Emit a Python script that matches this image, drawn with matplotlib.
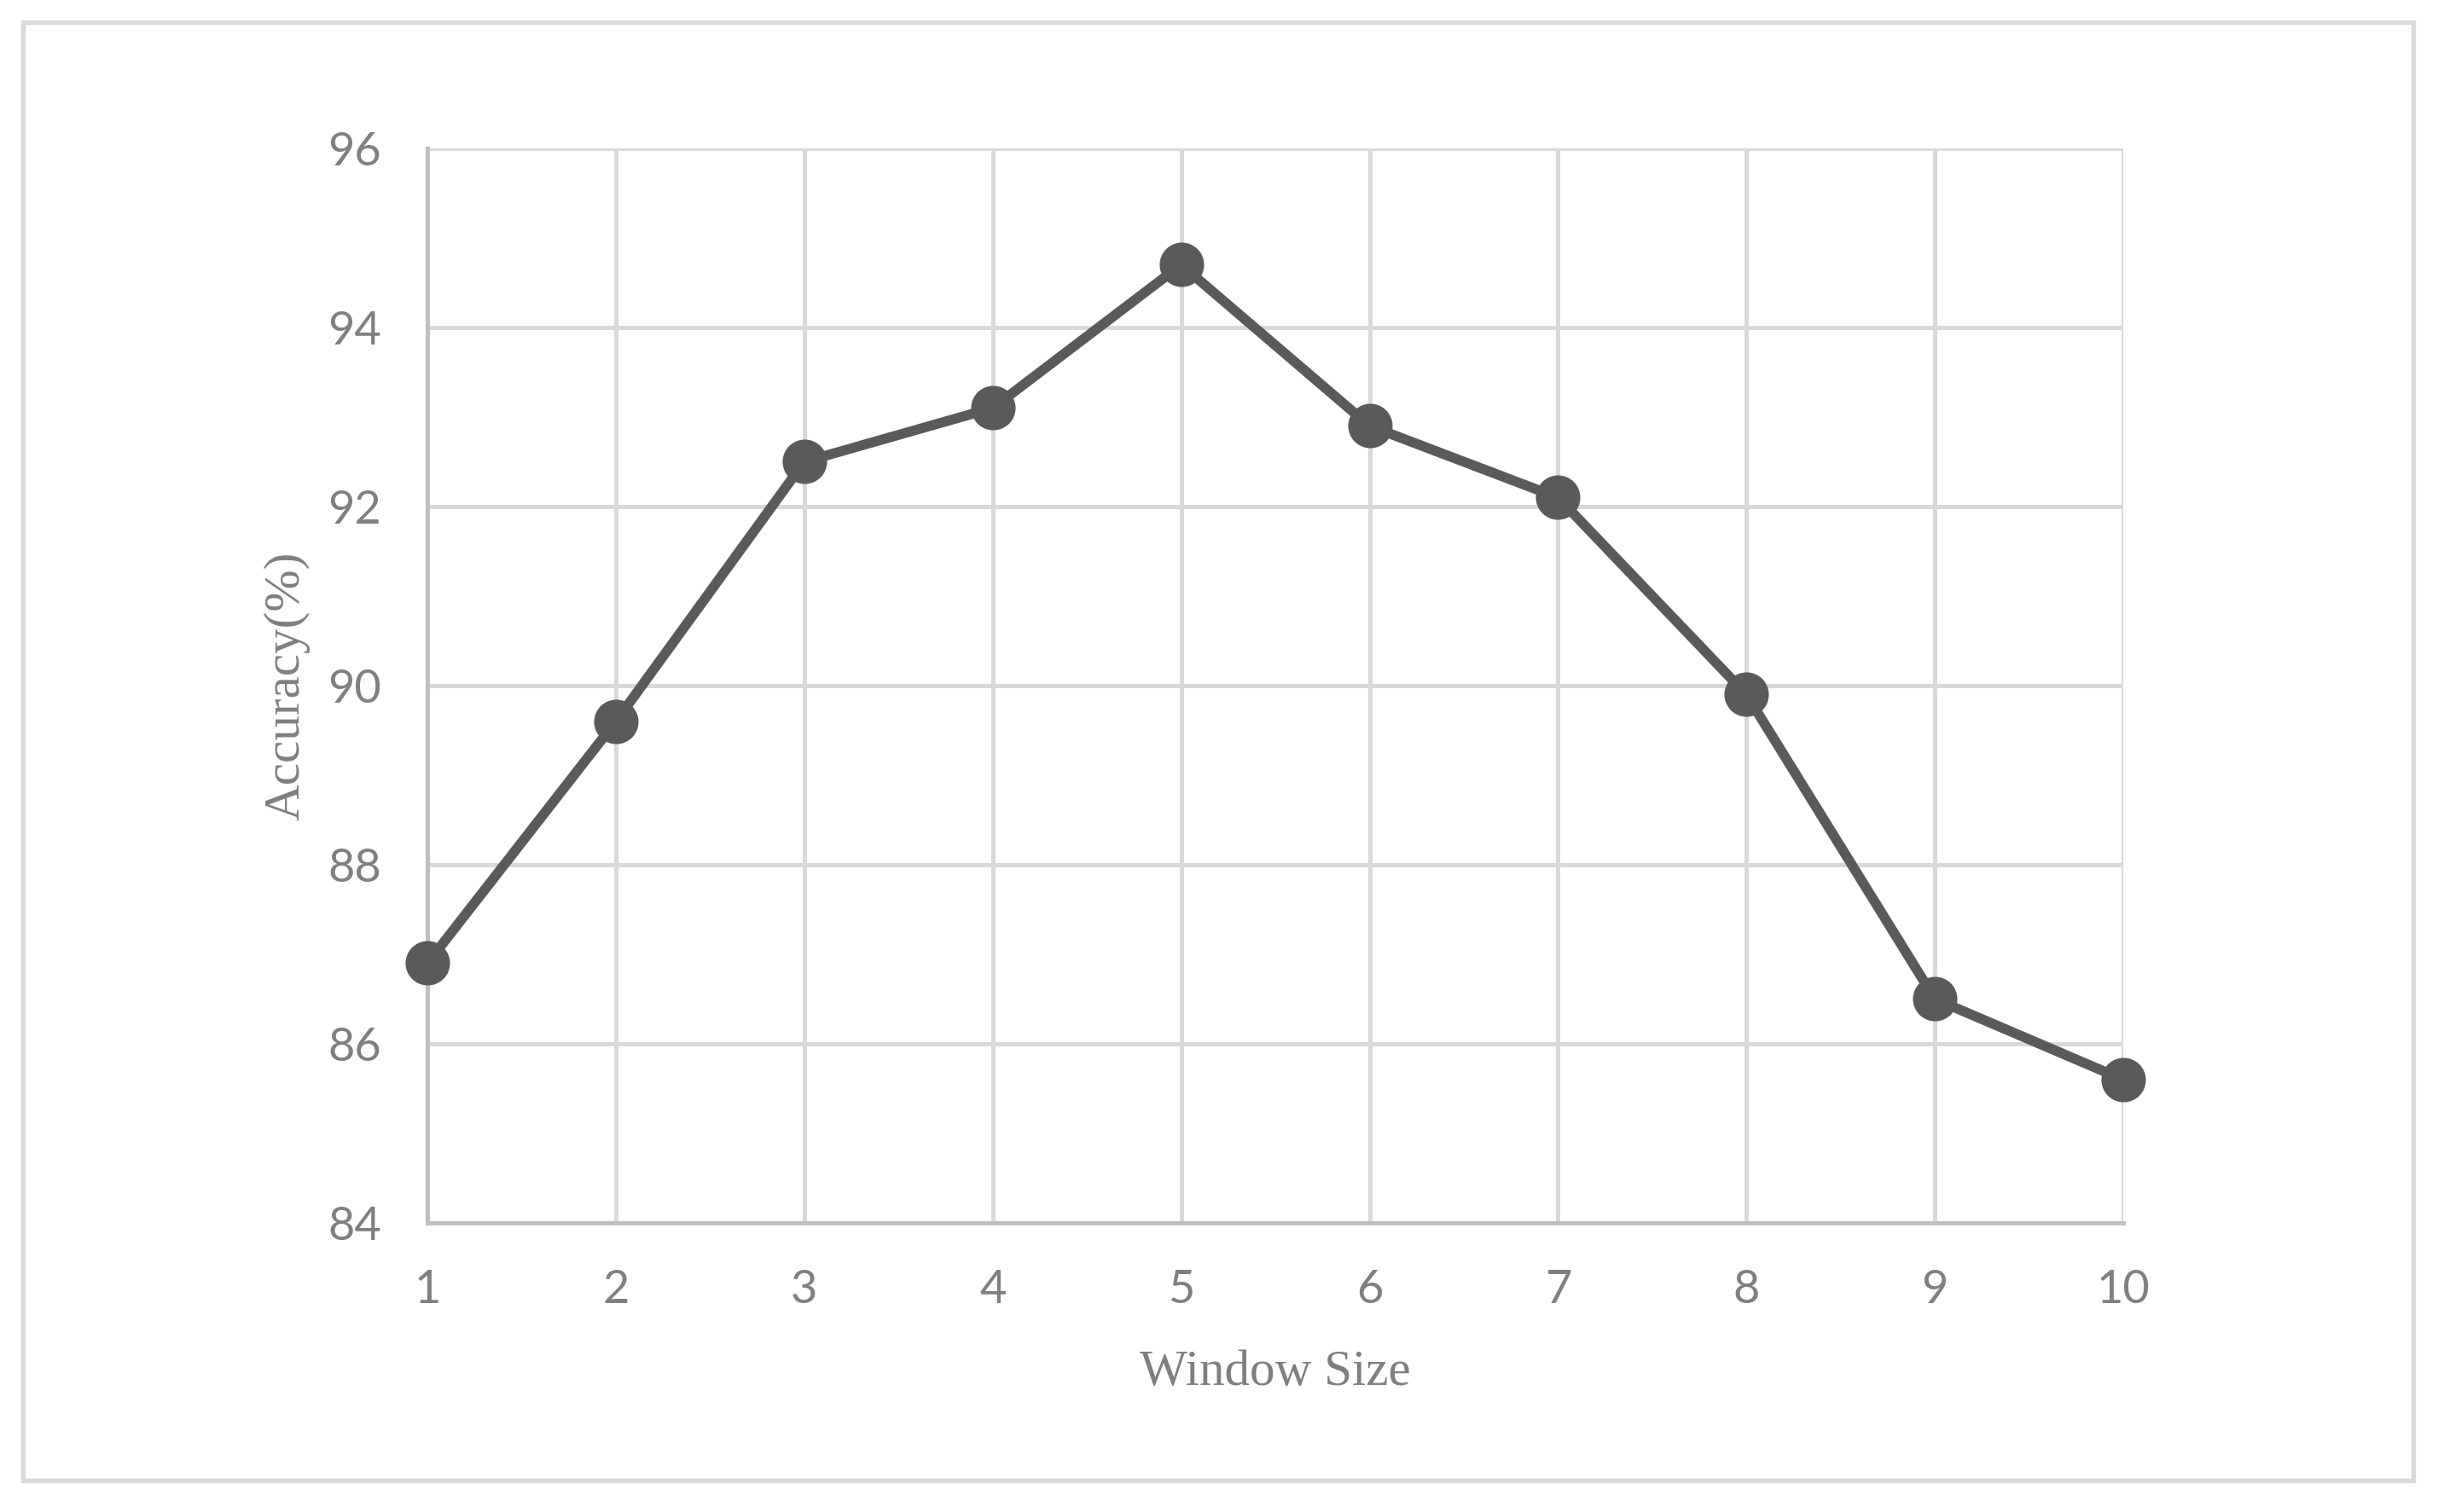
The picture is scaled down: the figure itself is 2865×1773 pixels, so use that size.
import matplotlib
matplotlib.use("Agg")
import matplotlib.pyplot as plt
from matplotlib.patches import Rectangle

# ---------------- data ----------------
window_size = [1, 2, 3, 4, 5, 6, 7, 8, 9, 10]
accuracy = [86.9, 89.6, 92.5, 93.1, 94.7, 92.9, 92.1, 89.9, 86.5, 85.6]
y_ticks = [84, 86, 88, 90, 92, 94, 96]

# ---------------- styling ----------------
LINE_COLOR = '#5a5a5a'
GRID_COLOR = '#d9d9d9'
SPINE_COLOR = '#bfbfbf'
TEXT_COLOR = '#7f7f7f'
TICK_FONT = ['Lato', 'DejaVu Sans']
LABEL_FONT = ['Liberation Serif', 'DejaVu Serif']

fig = plt.figure(figsize=(9.55, 5.91), dpi=300)
ax = fig.add_axes([0.1749, 0.1912, 0.8688 - 0.1749, 0.9019 - 0.1912])

# outer chart border
fig.patches.append(Rectangle((0.0094, 0.0209), 0.9874 - 0.0094, 0.9853 - 0.0209,
                             transform=fig.transFigure, fill=False,
                             edgecolor=GRID_COLOR, linewidth=1.3))

ax.plot(window_size, accuracy, color=LINE_COLOR, linewidth=2.8,
        marker='o', markersize=11.5, clip_on=False, zorder=5)

ax.set_xlim(1, 10)
ax.set_ylim(84, 96)
ax.set_xticks(window_size)
ax.set_yticks(y_ticks)
ax.grid(True, color=GRID_COLOR, linewidth=1.2)
ax.set_axisbelow(True)

for side in ['top', 'right']:
    ax.spines[side].set_visible(False)
for side in ['left', 'bottom']:
    ax.spines[side].set_color(SPINE_COLOR)
    ax.spines[side].set_linewidth(1.2)

ax.tick_params(length=0, colors=TEXT_COLOR, labelsize=13)
ax.tick_params(axis='y', pad=13)
ax.tick_params(axis='x', pad=13)
for lbl in ax.get_xticklabels() + ax.get_yticklabels():
    lbl.set_fontfamily(TICK_FONT)

ax.set_xlabel('Window Size', fontsize=14.2, color=TEXT_COLOR,
              family=LABEL_FONT, labelpad=11)
ax.set_ylabel('Accuracy(%)', fontsize=14.2, color=TEXT_COLOR,
              family=LABEL_FONT, labelpad=5)

fig.savefig('out.png', dpi=300)
